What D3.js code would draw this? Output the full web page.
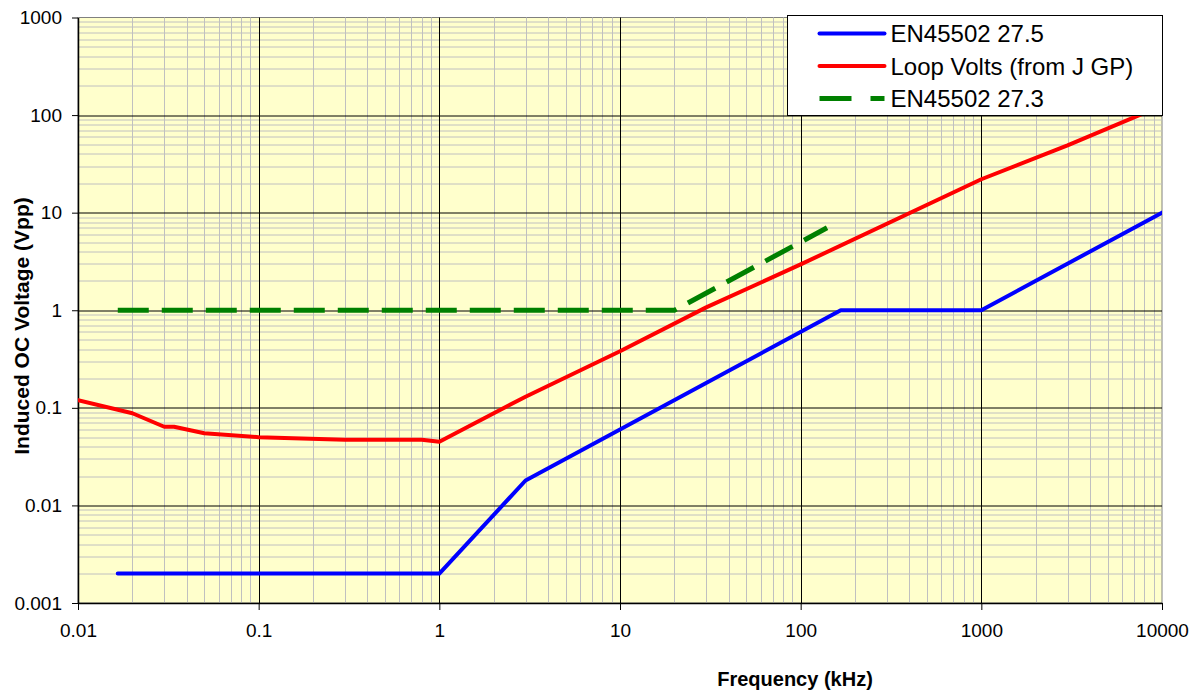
<!DOCTYPE html>
<html>
<head>
<meta charset="utf-8">
<script src="https://cdn.jsdelivr.net/npm/d3@7"></script>
<style>
  body { margin: 0; background: #fff; }
  svg { font-family: Arial, "Liberation Sans", sans-serif; }
</style>
</head>
<body>
<div id="chart"></div>
<script>
// series (frequency in kHz, voltage in Vpp)
var blueFreq = [0.0166, 1, 3, 166.7, 1000, 10000];
var blueVolt = [0.002, 0.002, 0.018, 1, 1, 10];

var redFreq = [0.01, 0.02, 0.03, 0.034, 0.05, 0.1, 0.3, 0.8, 1, 3, 10, 30, 100, 1000, 3000, 10000];
var redVolt = [0.12, 0.088, 0.064, 0.064, 0.055, 0.05, 0.047, 0.047, 0.045, 0.13, 0.38, 1.07, 2.95, 22, 49, 125];

var greenFreq = [0.0166, 20, 140];
var greenVolt = [1, 1, 7];

var xTickLabels = ["0.01", "0.1", "1", "10", "100", "1000", "10000"];
var yTickLabels = ["0.001", "0.01", "0.1", "1", "10", "100", "1000"];
var seriesNames = ["EN45502 27.5", "Loop Volts (from J GP)", "EN45502 27.3"];

// dimensions
var W = 1196, H = 690;
var margin = {top: 17.5, right: 34, bottom: 87, left: 78};
var width = W - margin.left - margin.right,
    height = H - margin.top - margin.bottom;

var svg = d3.select("#chart").append("svg")
    .attr("width", W)
    .attr("height", H);

var g = svg.append("g")
    .attr("transform", "translate(" + margin.left + "," + margin.top + ")");

var x = d3.scaleLog().domain([0.01, 10000]).range([0, width]);
var y = d3.scaleLog().domain([0.001, 1000]).range([height, 0]);

// plot background
g.append("rect")
    .attr("width", width)
    .attr("height", height)
    .attr("fill", "#ffffcc")
    .attr("stroke", "#808080")
    .attr("stroke-width", 1);

function isMajor(v) {
  var l = Math.log10(v);
  return Math.abs(l - Math.round(l)) < 1e-9;
}

// minor grid
var xMinor = x.ticks().filter(function(d) { return !isMajor(d); });
var yMinor = y.ticks().filter(function(d) { return !isMajor(d); });

g.append("g").selectAll("line").data(xMinor).enter().append("line")
    .attr("x1", function(d) { return Math.round(x(d)) + 0.5; })
    .attr("x2", function(d) { return Math.round(x(d)) + 0.5; })
    .attr("y1", 0).attr("y2", height)
    .attr("stroke", "#c0c0c0");

g.append("g").selectAll("line").data(yMinor).enter().append("line")
    .attr("y1", function(d) { return Math.round(y(d)) + 0.5; })
    .attr("y2", function(d) { return Math.round(y(d)) + 0.5; })
    .attr("x1", 0).attr("x2", width)
    .attr("stroke", "#c0c0c0");

// major grid
var xMajor = xTickLabels.map(Number);
var yMajor = yTickLabels.map(Number);

g.append("g").selectAll("line").data(xMajor.slice(1, -1)).enter().append("line")
    .attr("x1", function(d) { return Math.round(x(d)) + 0.5; })
    .attr("x2", function(d) { return Math.round(x(d)) + 0.5; })
    .attr("y1", 0).attr("y2", height)
    .attr("stroke", "#000");

g.append("g").selectAll("line").data(yMajor.slice(1, -1)).enter().append("line")
    .attr("y1", function(d) { return Math.round(y(d)) + 0.5; })
    .attr("y2", function(d) { return Math.round(y(d)) + 0.5; })
    .attr("x1", 0).attr("x2", width)
    .attr("stroke", "#000");

// axes
var xAxis = g.append("g")
    .attr("transform", "translate(0," + height + ")")
    .call(d3.axisBottom(x).tickValues(xMajor).tickFormat(function(d, i) { return xTickLabels[i]; })
      .tickSize(7).tickSizeOuter(0).tickPadding(14));
var yAxis = g.append("g")
    .call(d3.axisLeft(y).tickValues(yMajor).tickFormat(function(d, i) { return yTickLabels[i]; })
      .tickSize(6).tickSizeOuter(0).tickPadding(10));

[xAxis, yAxis].forEach(function(a) {
  a.select(".domain").attr("stroke", "#000").attr("stroke-width", 1.5);
  a.selectAll(".tick line").attr("stroke", "#000");
  a.selectAll(".tick text")
    .style("font-family", "Arial, 'Liberation Sans', sans-serif")
    .style("font-size", "19px")
    .attr("fill", "#000");
});

// lines
g.append("clipPath").attr("id", "clip")
  .append("rect").attr("width", width).attr("height", height);

var line = d3.line()
    .x(function(d) { return x(d[0]); })
    .y(function(d) { return y(d[1]); });

function pairs(fs, vs) { return fs.map(function(f, i) { return [f, vs[i]]; }); }

var lines = g.append("g").attr("clip-path", "url(#clip)");

lines.append("path")
    .datum(pairs(greenFreq, greenVolt))
    .attr("d", line)
    .attr("fill", "none")
    .attr("stroke", "#008000")
    .attr("stroke-width", 5)
    .attr("stroke-dasharray", "31,13");

lines.append("path")
    .datum(pairs(redFreq, redVolt))
    .attr("d", line)
    .attr("fill", "none")
    .attr("stroke", "#ff0000")
    .attr("stroke-width", 4)
    .attr("stroke-linejoin", "round")
    .attr("stroke-linecap", "round");

lines.append("path")
    .datum(pairs(blueFreq, blueVolt))
    .attr("d", line)
    .attr("fill", "none")
    .attr("stroke", "#0000ff")
    .attr("stroke-width", 4)
    .attr("stroke-linejoin", "round")
    .attr("stroke-linecap", "round");

// axis titles
svg.append("text")
    .attr("x", 795)
    .attr("y", 686)
    .attr("text-anchor", "middle")
    .style("font-size", "20px")
    .style("font-weight", "bold")
    .text("Frequency (kHz)");

svg.append("text")
    .attr("transform", "translate(28.5,326) rotate(-90)")
    .attr("text-anchor", "middle")
    .style("font-size", "21px")
    .style("font-weight", "bold")
    .text("Induced OC Voltage (Vpp)");

// legend
var legend = svg.append("g").attr("transform", "translate(787.5,15.5)");
legend.append("rect")
    .attr("width", 375)
    .attr("height", 100)
    .attr("fill", "#fff")
    .attr("stroke", "#000");

var legColors = ["#0000ff", "#ff0000", "#008000"];
var legRows = legend.selectAll(".row").data(seriesNames).enter().append("g")
    .attr("transform", function(d, i) { return "translate(0," + (18 + i * 32.5) + ")"; });

legRows.append("line")
    .attr("x1", 32).attr("x2", 97)
    .attr("y1", 0).attr("y2", 0)
    .attr("stroke", function(d, i) { return legColors[i]; })
    .attr("stroke-width", function(d, i) { return i == 2 ? 5 : 4; })
    .attr("stroke-linecap", function(d, i) { return i == 2 ? "butt" : "round"; })
    .attr("stroke-dasharray", function(d, i) { return i == 2 ? "32,19" : null; });

legRows.append("text")
    .attr("x", 103)
    .attr("y", 8.5)
    .style("font-size", "24px")
    .text(function(d) { return d; });
</script>
</body>
</html>
